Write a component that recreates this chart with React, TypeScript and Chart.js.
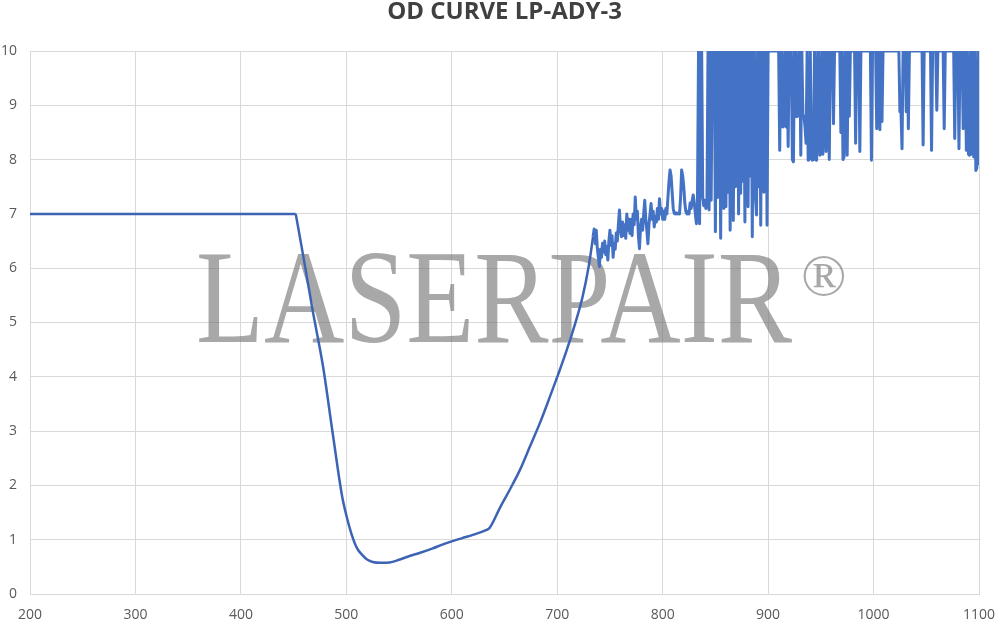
import React, { useEffect, useRef } from "react";
import { Chart, registerables } from "chart.js";

Chart.register(...registerables);

const TITLE = "OD CURVE LP-ADY-3";
const WATERMARK = "LASERPAIR";
const WATERMARK_MARK = "®";

const X_MIN = 200;
const X_MAX = 1100;
const Y_MIN = 0;
const Y_MAX = 10;

// flat blocking level
const flatX = [200, 452];
const flatY = [7, 7];

// smooth transition curve
const curveX = [452, 460, 468, 478, 487, 496, 500, 505, 510, 515, 520, 525, 533, 541, 550, 560, 570, 582, 591, 600, 610, 620, 633, 636, 646, 655, 665, 674, 684, 693, 701, 709, 717, 724, 730, 734];
const curveY = [7, 6.13, 5.23, 4.18, 2.97, 1.8, 1.45, 1.1, 0.85, 0.72, 0.63, 0.59, 0.575, 0.58, 0.63, 0.7, 0.76, 0.84, 0.91, 0.97, 1.03, 1.09, 1.18, 1.22, 1.6, 1.92, 2.3, 2.71, 3.17, 3.63, 4.05, 4.49, 4.98, 5.47, 6.05, 6.58];

// noisy region 734-833
const noiseAX = [734, 735, 736, 737, 738, 739, 740, 741, 742, 743, 744, 745, 746, 747, 748, 749, 750, 751, 752, 753, 754, 755, 756, 757, 758, 759, 760, 761, 762, 763, 764, 765, 766, 767, 768, 769, 770, 771, 772, 773, 774, 775, 776, 777, 778, 779, 780, 781, 782, 783, 784, 785, 786, 787, 788, 789, 790, 791, 792, 793, 794, 795, 796, 797, 798, 799, 800, 801, 802, 803, 804, 805, 806, 807, 808, 809, 810, 811, 812, 813, 814, 815, 816, 817, 818, 819, 820, 821, 822, 823, 824, 825, 826, 827, 828, 829, 830, 831, 832, 833];
const noiseAY = [
  6.58, 6.72, 6.45, 6.7, 6.38, 6.2, 6.03, 6.35, 6.2, 6.46,
  6.3, 6.5, 6.25, 6.4, 6.15, 6.5, 6.7, 6.42, 6.6, 6.2,
  6.45, 6.35, 6.65, 6.5, 6.8, 7.07, 6.7, 6.58, 6.85, 6.6,
  6.8, 6.55, 7.0, 6.7, 6.9, 6.64, 6.9, 6.6, 7.0, 6.8,
  7.31, 6.9, 7.05, 6.6, 6.36, 6.75, 6.9, 6.7, 7.0, 7.25,
  6.9, 6.7, 6.45, 6.8, 7.0, 7.19, 6.9, 7.05, 6.76, 6.95,
  6.85, 7.1, 6.9, 7.28, 7.0, 7.1, 6.9, 7.05, 6.9, 7.1,
  7.0, 7.3, 7.6, 7.81, 7.7, 7.4, 7.1, 7.01, 7.0, 7.02,
  7.0, 7.01, 7.0, 7.3, 7.81, 7.7, 7.5, 7.2, 7.04, 7.0,
  7.05, 7.0, 7.2, 7.1, 7.25, 7.35, 7.2, 7.0, 6.82, 7.2,
];

// saturated region 834-900 (values above 10 shown at the top)
const noiseBX = [834, 835, 836, 837, 838, 839, 840, 841, 842, 843, 844, 845, 846, 847, 848, 849, 850, 851, 852, 853, 854, 855, 856, 857, 858, 859, 860, 861, 862, 863, 864, 865, 866, 867, 868, 869, 870, 871, 872, 873, 874, 875, 876, 877, 878, 879, 880, 881, 882, 883, 884, 885, 886, 887, 888, 889, 890, 891, 892, 893, 894, 895, 896, 897, 898, 899, 900];
const noiseBY = [
  10, 6.82, 10, 10, 7.3, 7.15, 7.25, 7.1, 7.2, 10,
  7.07, 10, 7.25, 10, 10, 10, 6.67, 10, 7.3, 10,
  10, 6.55, 10, 10, 7.1, 10, 7.13, 10, 7.4, 10,
  6.7, 10, 10, 6.88, 10, 7.5, 10, 10, 7.0, 10,
  7.38, 10, 7.6, 10, 6.85, 10, 10, 7.13, 10, 7.7,
  10, 6.58, 10, 10, 7.3, 6.98, 10, 7.5, 10, 6.79,
  10, 10, 7.4, 10, 10, 6.79, 10,
];

// saturated region 909-1100
const noiseCX = [909, 910, 911, 912, 913, 914, 915, 916, 917, 918, 919, 920, 922, 923, 924, 925, 926, 927, 928, 929, 930, 931, 932, 933, 934, 935, 936, 937, 938, 939, 940, 941, 942, 943, 944, 945, 946, 947, 948, 949, 950, 951, 952, 953, 954, 955, 956, 957, 958, 959, 961, 962, 963, 968, 969, 970, 971, 972, 973, 974, 975, 976, 977, 978, 982, 983, 984, 986, 987, 988, 997, 998, 999, 1002, 1003, 1004, 1005, 1006, 1007, 1008, 1009, 1024, 1025, 1026, 1027, 1028, 1030, 1031, 1032, 1033, 1034, 1046, 1047, 1048, 1054, 1055, 1056, 1059, 1060, 1061, 1066, 1067, 1068, 1076, 1077, 1078, 1080, 1081, 1082, 1084, 1085, 1086, 1087, 1088, 1089, 1090, 1091, 1092, 1093, 1094, 1095, 1096, 1097, 1098, 1099, 1100];
const noiseCY = [10, 10, 8.17, 10, 10, 8.6, 8.7, 10, 8.6, 10, 8.24, 10, 10, 8.0, 7.96, 10, 10, 8.79, 8.8, 10, 10, 8.08, 10, 8.79, 8.8, 8.6, 8.3, 10, 7.99, 8.0, 10, 8.1, 7.99, 8.0, 10, 8.0, 7.99, 10, 10, 8.08, 8.1, 10, 8.1, 10, 10, 8.15, 10, 10, 8.0, 10, 10, 8.66, 10, 10, 8.5, 10, 8.0, 8.05, 10, 10, 8.08, 10, 8.8, 10, 10, 8.3, 10, 10, 8.15, 10, 10, 7.99, 10, 10, 8.57, 10, 10, 8.55, 10, 8.7, 10, 10, 8.88, 8.9, 8.2, 10, 10, 8.88, 10, 8.57, 10, 10, 8.27, 10, 10, 8.17, 10, 10, 8.91, 10, 10, 8.57, 10, 10, 8.39, 10, 10, 8.2, 10, 10, 8.57, 10, 10, 8.17, 10, 8.1, 8.08, 10, 8.1, 10, 8.05, 10, 7.8, 7.85, 10, 7.9];

const toPoints = (xs: number[], ys: number[]) => xs.map((x, i) => ({ x, y: ys[i] }));

const watermarkPlugin = {
  id: "watermark",
  beforeDatasetsDraw(chart: any) {
    const { ctx, chartArea } = chart;
    ctx.save();
    ctx.fillStyle = "rgba(110,110,110,0.6)";
    ctx.textBaseline = "alphabetic";
    ctx.textAlign = "left";
    ctx.font = '134px "Liberation Serif", "DejaVu Serif", serif';
    const w = ctx.measureText(WATERMARK).width;
    const sx = 596 / w;
    ctx.translate(chartArea.left + 166, chartArea.top + 291);
    ctx.scale(sx, 1);
    ctx.fillText(WATERMARK, 0, 0);
    ctx.restore();
    ctx.save();
    ctx.fillStyle = "rgba(110,110,110,0.6)";
    ctx.textBaseline = "alphabetic";
    ctx.font = '60px "Liberation Serif", "DejaVu Serif", serif';
    ctx.fillText(WATERMARK_MARK, chartArea.left + 771, chartArea.top + 244);
    ctx.restore();
  },
};

export default function App() {
  const ref = useRef<HTMLCanvasElement | null>(null);

  useEffect(() => {
    if (!ref.current) return;
    const tickFont = { family: '"Open Sans", "Liberation Sans", sans-serif', size: 14 };
    const chart = new Chart(ref.current, {
      type: "line",
      data: {
        datasets: [
          {
            data: toPoints(flatX, flatY),
            borderColor: "#3d64b4",
            borderWidth: 2.5,
            pointRadius: 0,
            tension: 0,
          },
          {
            data: toPoints(curveX, curveY),
            borderColor: "#3d64b4",
            borderWidth: 2.5,
            pointRadius: 0,
            cubicInterpolationMode: "monotone",
          },
          {
            data: [
              ...toPoints(noiseAX, noiseAY),
              ...toPoints(noiseBX, noiseBY),
              ...toPoints(noiseCX, noiseCY),
            ],
            borderColor: "#4472C4",
            borderWidth: 3,
            borderJoinStyle: "round",
            pointRadius: 0,
            tension: 0,
          },
        ],
      },
      options: {
        animation: false,
        responsive: true,
        maintainAspectRatio: false,
        layout: { padding: { left: 0, right: 21, top: 0, bottom: 0 } },
        plugins: {
          legend: { display: false },
          tooltip: { enabled: false },
          title: {
            display: true,
            fullSize: false,
            text: TITLE,
            color: "#404040",
            font: { family: '"Open Sans", "Liberation Sans", sans-serif', size: 24, weight: "bold", lineHeight: 1 },
            padding: { top: 0, bottom: 27 },
          },
        },
        scales: {
          x: {
            type: "linear",
            min: X_MIN,
            max: X_MAX,
            ticks: {
              stepSize: 100,
              color: "#595959",
              font: tickFont,
              padding: 13,
              maxRotation: 0,
              callback: (v: any) => String(v),
            },
            grid: { color: "#d9d9d9", drawTicks: false, lineWidth: 1 },
            border: { color: "#d9d9d9" },
            afterFit: (scale: any) => {
              scale.height = 30;
              scale.paddingLeft = 0;
              scale.paddingRight = 0;
            },
          },
          y: {
            type: "linear",
            min: Y_MIN,
            max: Y_MAX,
            ticks: { stepSize: 1, color: "#595959", font: tickFont, padding: 13, callback: (v: any) => String(v) },
            grid: { color: "#d9d9d9", drawTicks: false, lineWidth: 1 },
            border: { color: "#d9d9d9" },
            afterFit: (scale: any) => {
              scale.width = 30;
            },
          },
        },
      },
      plugins: [watermarkPlugin],
    } as any);
    return () => chart.destroy();
  }, []);

  return (
    <div style={{ position: "fixed", left: 0, top: 0, width: 1000, height: 624, background: "#fff" }}>
      <canvas ref={ref} />
    </div>
  );
}
